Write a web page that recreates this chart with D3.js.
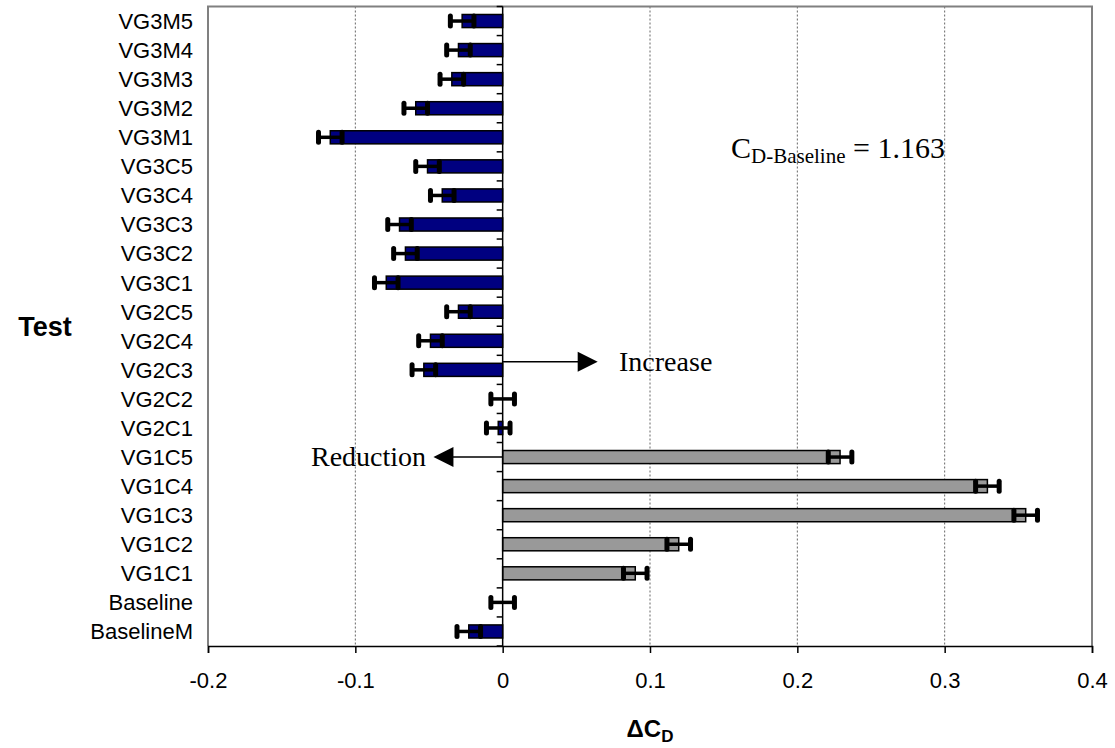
<!DOCTYPE html>
<html>
<head>
<meta charset="utf-8">
<script src="https://cdn.jsdelivr.net/npm/d3@7/dist/d3.min.js"></script>
<style>
  body { margin: 0; background: #fff; }
  svg { display: block; }
</style>
</head>
<body>
<div id="chart"></div>
<script>
// categories top -> bottom
const tests = ["VG3M5", "VG3M4", "VG3M3", "VG3M2", "VG3M1", "VG3C5", "VG3C4", "VG3C3", "VG3C2", "VG3C1",
    "VG2C5", "VG2C4", "VG2C3", "VG2C2", "VG2C1", "VG1C5", "VG1C4", "VG1C3", "VG1C2", "VG1C1",
    "Baseline", "BaselineM"];
const deltaCd = [-0.0275, -0.030, -0.0345, -0.059, -0.117, -0.051, -0.041, -0.070, -0.066, -0.079,
    -0.030, -0.049, -0.0535, 0.0, -0.003, 0.229, 0.329, 0.355, 0.1195, 0.090,
    0.0, -0.023];
const errCd = [0.008, 0.008, 0.008, 0.008, 0.008, 0.008, 0.008, 0.008, 0.008, 0.008,
    0.008, 0.008, 0.008, 0.008, 0.008, 0.008, 0.008, 0.008, 0.008, 0.008,
    0.008, 0.008];
const xTicks = [-0.2, -0.1, 0, 0.1, 0.2, 0.3, 0.4];
const gridTicks = [-0.1, 0.1, 0.2, 0.3];

const data = tests.map((t, i) => ({ name: t, v: deltaCd[i], e: errCd[i] }));

const W = 1115, H = 748;
const margin = { top: 6.5, right: 23, bottom: 102, left: 208 };

const svg = d3.select("#chart").append("svg")
    .attr("width", W)
    .attr("height", H);

const x = d3.scaleLinear().domain([-0.2, 0.4]).range([margin.left, W - margin.right]);
const y = d3.scaleBand().domain(tests)
    .range([margin.top, H - margin.bottom])
    .paddingInner(0.55)
    .paddingOuter(0.275);
const step = y.step();
const cy = (n) => y(n) + y.bandwidth() / 2;
const plotTop = margin.top, plotBottom = H - margin.bottom;

const sans = "'Liberation Sans', Arial, Helvetica, sans-serif";
const serif = "'Liberation Serif', 'Times New Roman', serif";

// gridlines (dotted)
svg.append("g").selectAll("line")
    .data(gridTicks)
    .enter().append("line")
    .attr("x1", (d) => x(d)).attr("x2", (d) => x(d))
    .attr("y1", plotTop).attr("y2", plotBottom)
    .attr("stroke", "#666")
    .attr("stroke-width", 1)
    .attr("stroke-dasharray", "2,2");

// frame
svg.append("path")
    .attr("d", `M${x(-0.2)},${plotBottom}V${plotTop}H${x(0.4)}V${plotBottom}`)
    .attr("fill", "none")
    .attr("stroke", "#808080")
    .attr("stroke-width", 2);

// bars
svg.append("g").selectAll("rect")
    .data(data)
    .enter().append("rect")
    .attr("x", (d) => x(Math.min(0, d.v)))
    .attr("y", (d) => y(d.name))
    .attr("width", (d) => Math.abs(x(d.v) - x(0)))
    .attr("height", y.bandwidth())
    .attr("fill", (d) => (d.v > 0 ? "#999999" : "#000080"))
    .attr("stroke", "#000")
    .attr("stroke-width", 1.5);

// error bars
const eb = svg.append("g").selectAll("g")
    .data(data)
    .enter().append("g");
eb.append("line")
    .attr("x1", (d) => x(d.v - d.e)).attr("x2", (d) => x(d.v + d.e))
    .attr("y1", (d) => cy(d.name)).attr("y2", (d) => cy(d.name))
    .attr("stroke", "#000").attr("stroke-width", 3.5);
["lo", "hi"].forEach((side) => {
    eb.append("line")
        .attr("x1", (d) => x(side === "lo" ? d.v - d.e : d.v + d.e))
        .attr("x2", (d) => x(side === "lo" ? d.v - d.e : d.v + d.e))
        .attr("y1", (d) => cy(d.name) - 5)
        .attr("y2", (d) => cy(d.name) + 5)
        .attr("stroke", "#000")
        .attr("stroke-width", 5)
        .attr("stroke-linecap", "round");
});

// zero (category) axis
svg.append("line")
    .attr("x1", x(0)).attr("x2", x(0))
    .attr("y1", plotTop).attr("y2", plotBottom)
    .attr("stroke", "#000").attr("stroke-width", 1.5);
const bounds = tests.map((t) => y(t) - (step - y.bandwidth()) / 2).concat([plotBottom]);
svg.append("g").selectAll("line")
    .data(bounds)
    .enter().append("line")
    .attr("x1", x(0) - 6).attr("x2", x(0))
    .attr("y1", (d) => d).attr("y2", (d) => d)
    .attr("stroke", "#000").attr("stroke-width", 1.5);

// category labels
svg.append("g").selectAll("text")
    .data(tests)
    .enter().append("text")
    .attr("x", margin.left - 15)
    .attr("y", (d) => cy(d))
    .attr("dy", "0.36em")
    .attr("text-anchor", "end")
    .attr("font-family", sans)
    .attr("font-size", 22)
    .text((d) => d);

// x axis
const xAxis = svg.append("g")
    .attr("transform", `translate(0,${plotBottom})`)
    .call(d3.axisBottom(x).tickValues(xTicks).tickSize(7).tickFormat((d) => String(+d.toFixed(1))));
xAxis.select(".domain").attr("stroke", "#000").attr("stroke-width", 1.5);
xAxis.selectAll(".tick line").attr("stroke", "#000").attr("stroke-width", 1.5);
xAxis.selectAll(".tick text")
    .attr("font-family", sans)
    .attr("font-size", 22)
    .attr("fill", "#000")
    .attr("y", 26)
    .attr("dy", "0.71em");

// axis titles
const xt = svg.append("text")
    .attr("x", (x(-0.2) + x(0.4)) / 2)
    .attr("y", 737)
    .attr("text-anchor", "middle")
    .attr("font-family", sans)
    .attr("font-weight", "bold")
    .attr("font-size", 24);
xt.append("tspan").text("\u0394C");
xt.append("tspan").attr("font-size", 17).attr("dy", 5).text("D");

svg.append("text")
    .attr("x", 45)
    .attr("y", (plotTop + plotBottom) / 2)
    .attr("dy", "0.36em")
    .attr("text-anchor", "middle")
    .attr("font-family", sans)
    .attr("font-weight", "bold")
    .attr("font-size", 27)
    .text("Test");

// annotations
const cdText = svg.append("text")
    .attr("x", 731)
    .attr("y", 158)
    .attr("font-family", serif)
    .attr("font-size", 30);
cdText.append("tspan").text("C");
cdText.append("tspan").attr("font-size", 21).attr("dy", 5).text("D-Baseline");
cdText.append("tspan").attr("dy", -5).text(" = 1.163");

function arrow(x0, x1, yy) {
    const dir = Math.sign(x1 - x0);
    svg.append("line")
        .attr("x1", x0).attr("x2", x1 - dir * 18)
        .attr("y1", yy).attr("y2", yy)
        .attr("stroke", "#000").attr("stroke-width", 1.5);
    svg.append("path")
        .attr("d", `M${x1},${yy}L${x1 - dir * 20},${yy - 10}L${x1 - dir * 20},${yy + 10}Z`)
        .attr("fill", "#000");
}
const yInc = cy("VG2C3") - 8;
const yRed = cy("VG1C5");
arrow(x(0), x(0.0645), yInc);
arrow(x(0), x(-0.0470), yRed);

svg.append("text")
    .attr("x", x(0.079))
    .attr("y", yInc)
    .attr("dy", "0.33em")
    .attr("font-family", serif)
    .attr("font-size", 28)
    .text("Increase");
svg.append("text")
    .attr("x", x(-0.052))
    .attr("y", yRed)
    .attr("dy", "0.33em")
    .attr("text-anchor", "end")
    .attr("font-family", serif)
    .attr("font-size", 28)
    .text("Reduction");
</script>
</body>
</html>
